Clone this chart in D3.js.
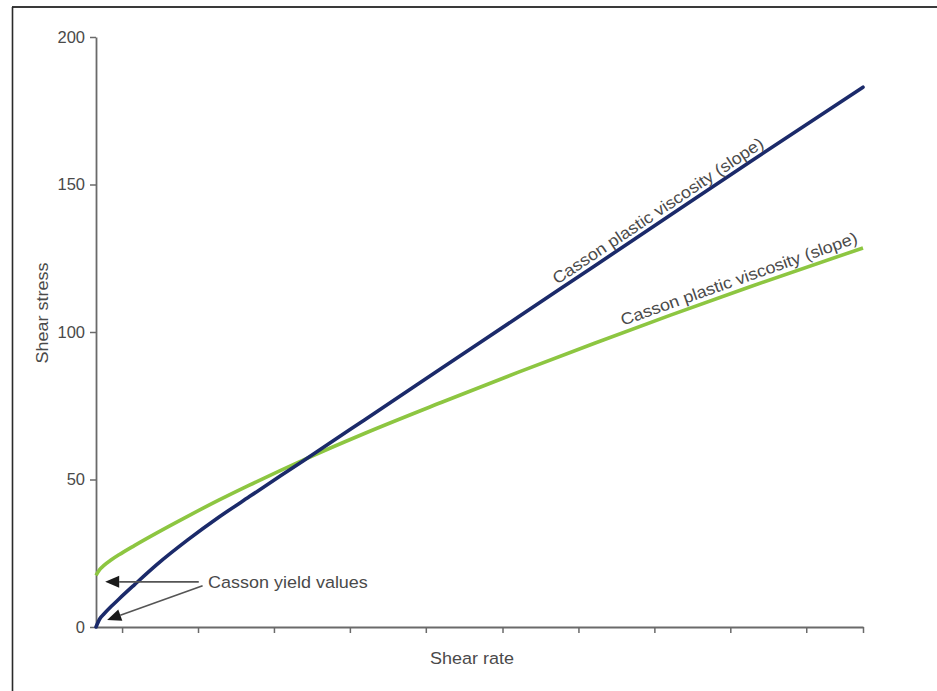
<!DOCTYPE html>
<html>
<head>
<meta charset="utf-8">
<script src="https://cdn.jsdelivr.net/npm/d3@7"></script>
<style>
  html, body { margin: 0; padding: 0; background: #fff; }
  svg { display: block; }
  text { font-family: "Liberation Sans", Arial, sans-serif; }
</style>
</head>
<body>
<svg id="chart" width="937" height="691"></svg>
<script>
// ---- data ----
const shearRate = [0, 0.5, 1, 2, 3, 5, 8, 12, 16, 20, 27, 35, 45, 55, 65, 75, 85, 100];
const stressBlue = [0, 2.8, 4.3, 7.0, 9.5, 14.3, 21.3, 29.6, 37.2, 44.2, 56.3, 70.2, 87.6, 105.0, 122.4, 139.8, 157.2, 183];
const stressGreen = [17.5, 19.5, 20.8, 22.8, 24.5, 27.6, 32.0, 37.6, 43.0, 48.1, 56.6, 65.6, 76.1, 86.3, 96.2, 105.8, 115.1, 128.5];
const yTicks = [0, 50, 100, 150, 200];
const xTicks = [3.4, 13.3, 23.2, 33.1, 43.0, 53.0, 62.9, 72.8, 82.7, 92.6, 100];
const xTitle = "Shear rate";
const yTitle = "Shear stress";
const slopeLabel = "Casson plastic viscosity (slope)";
const yieldLabel = "Casson yield values";

const svg = d3.select("#chart");
const stretch = 1.09; // the original lettering is slightly wider than standard

// frame (top & left edge of the original figure)
svg.append("line").attr("x1", 12).attr("x2", 937).attr("y1", 7).attr("y2", 7)
  .attr("stroke", "#3a3a3a").attr("stroke-width", 2.2);
svg.append("line").attr("x1", 12.5).attr("x2", 12.5).attr("y1", 7).attr("y2", 691)
  .attr("stroke", "#2a2a2a").attr("stroke-width", 1.6);

const x = d3.scaleLinear().domain([0, 100]).range([96, 863]);
const y = d3.scaleLinear().domain([0, 200]).range([627, 37]);

const axisColor = "#6a6a6a";
const textColor = "#4a4a4a";

// y axis
const gy = svg.append("g").attr("transform", `translate(${x(0)},0)`)
  .call(d3.axisLeft(y).tickValues(yTicks).tickSize(6).tickSizeOuter(0).tickPadding(5));
gy.select(".domain").attr("stroke", axisColor).attr("stroke-width", 1.8);
gy.selectAll(".tick line").attr("stroke", axisColor).attr("stroke-width", 1.5);
gy.selectAll(".tick text").attr("fill", textColor).attr("font-size", 16.5)
  .attr("font-family", "Liberation Sans, Arial, sans-serif");

// x axis
const gx = svg.append("g").attr("transform", `translate(0,${y(0)})`)
  .call(d3.axisBottom(x).tickValues(xTicks).tickSize(6).tickSizeOuter(0).tickFormat(""));
gx.select(".domain").attr("stroke", axisColor).attr("stroke-width", 1.8);
gx.selectAll(".tick line").attr("stroke", axisColor).attr("stroke-width", 1.5);

// axis titles
svg.append("text").text(xTitle)
  .attr("transform", `translate(430,664) scale(${stretch},1)`)
  .attr("font-size", 16.5).attr("fill", textColor);
svg.append("text").text(yTitle)
  .attr("transform", `translate(48,${(y(0) + y(200)) / 2 - 19}) rotate(-90) scale(${stretch},1)`)
  .attr("text-anchor", "middle")
  .attr("font-size", 16.5).attr("fill", textColor);

// curves
const line = d3.line().x(d => x(d[0])).y(d => y(d[1])).curve(d3.curveMonotoneX);
const green = shearRate.map((r, i) => [r, stressGreen[i]]);
const blue = shearRate.map((r, i) => [r, stressBlue[i]]);

svg.append("path").datum(green).attr("d", line)
  .attr("fill", "none").attr("stroke", "#8dc641").attr("stroke-width", 3.6)
  .attr("stroke-linecap", "butt");
svg.append("path").datum(blue).attr("d", line)
  .attr("fill", "none").attr("stroke", "#1b2a6a").attr("stroke-width", 3.6)
  .attr("stroke-linecap", "round");

// slope labels placed along the curves
function labelAlong(data, startRate, endRate, offset) {
  const interp = (r) => {
    for (let i = 1; i < data.length; i++) {
      if (r <= data[i][0]) {
        const t = (r - data[i - 1][0]) / (data[i][0] - data[i - 1][0]);
        return data[i - 1][1] + t * (data[i][1] - data[i - 1][1]);
      }
    }
    return data[data.length - 1][1];
  };
  const x0 = x(startRate), y0 = y(interp(startRate));
  const x1 = x(endRate), y1 = y(interp(endRate));
  const ang = Math.atan2(y1 - y0, x1 - x0) * 180 / Math.PI;
  svg.append("text").text(slopeLabel)
    .attr("transform", `translate(${x0},${y0}) rotate(${ang}) scale(${stretch},1)`)
    .attr("dy", -offset)
    .attr("font-size", 16.5).attr("fill", textColor);
}
labelAlong(blue, 60.5, 87, 5);
labelAlong(green, 69.0, 99, 6.5);

// yield value annotation
const arrowTips = [[1.2, 15.3], [1.45, 2.4]];
svg.append("text").text(yieldLabel)
  .attr("transform", `translate(${x(14.6)},${y(13.2)}) scale(${stretch},1)`)
  .attr("font-size", 16.5).attr("fill", textColor);

function arrow(tip, from) {
  const tx = x(tip[0]), ty = y(tip[1]);
  const fx = x(from[0]), fy = y(from[1]);
  const a = Math.atan2(ty - fy, tx - fx);
  const L = 14, W = 6;
  const bx = tx - L * Math.cos(a), by = ty - L * Math.sin(a);
  svg.append("line").attr("x1", fx).attr("y1", fy).attr("x2", bx).attr("y2", by)
    .attr("stroke", "#555").attr("stroke-width", 1.6);
  const px = -Math.sin(a) * W, py = Math.cos(a) * W;
  svg.append("path")
    .attr("d", `M${tx},${ty}L${bx + px},${by + py}L${bx - px},${by - py}Z`)
    .attr("fill", "#1a1a1a");
}
arrow(arrowTips[0], [13.4, 15.3]);
arrow(arrowTips[1], [13.9, 14.0]);
</script>
</body>
</html>
